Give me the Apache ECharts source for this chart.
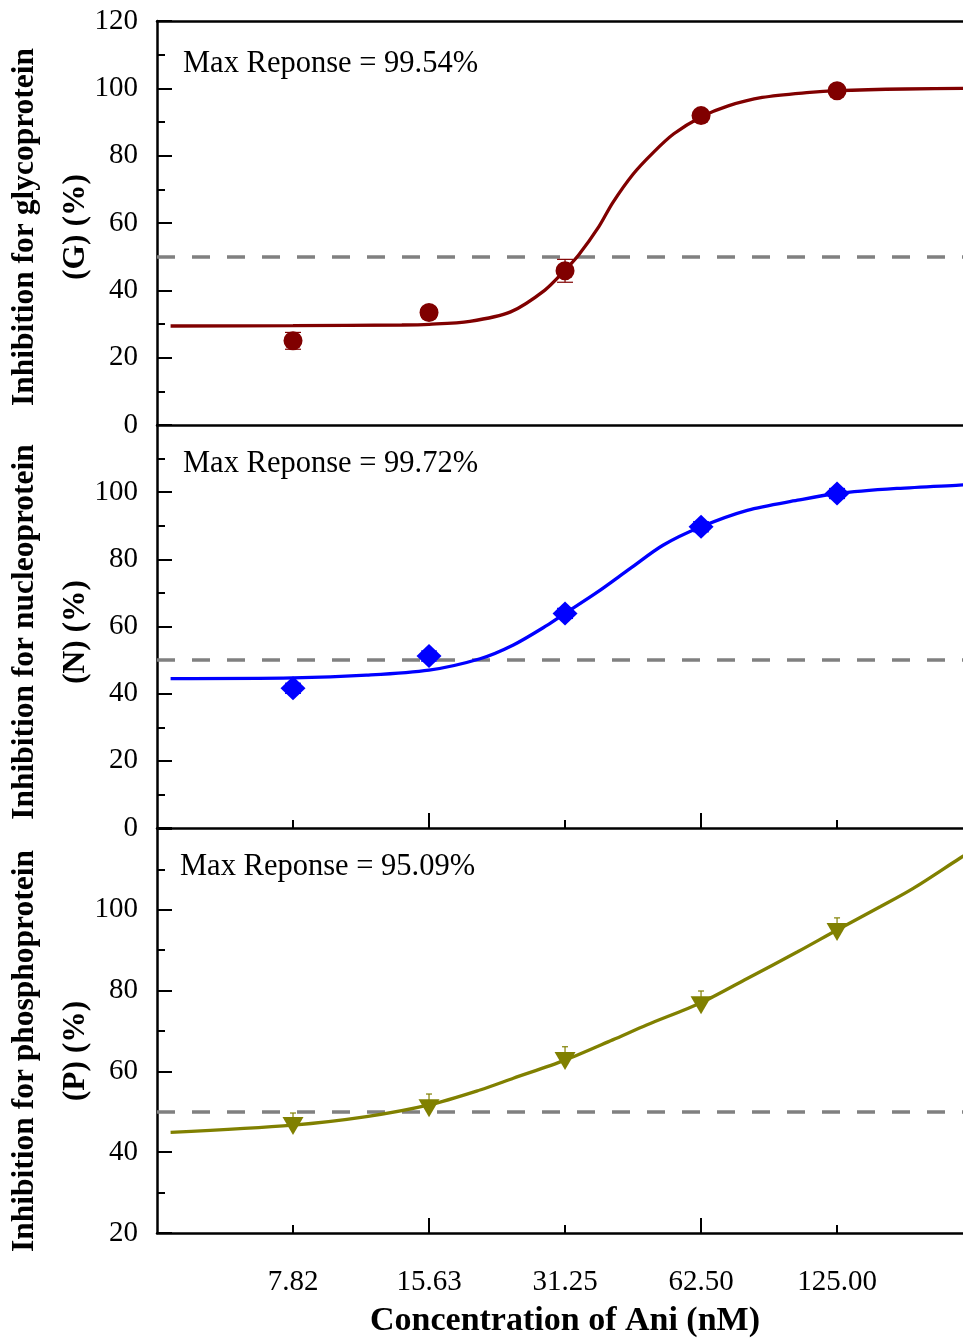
<!DOCTYPE html>
<html>
<head>
<meta charset="utf-8">
<script src="https://cdn.jsdelivr.net/npm/echarts@6/dist/echarts.min.js"></script>
<style>
html,body{margin:0;padding:0;background:#fff;}
#chart{width:963px;height:1339px;}
</style>
</head>
<body>
<div id="chart"></div>
<script>
// ---- data ----
const CONC_LABELS = ["7.82", "15.63", "31.25", "62.50", "125.00"];
const CONC_POS = [1, 2, 3, 4, 5]; // log2-spaced positions of the concentrations
const MAJOR_TICKS = [2, 4];
const MINOR_TICKS = [1, 3, 5];

const G_MEAN = [25.0, 33.4, 45.8, 91.9, 99.3];
const G_ERR  = [2.5, 1.5, 3.4, 1.0, 1.0];
const N_MEAN = [41.6, 51.2, 63.9, 89.7, 99.6];
const N_ERR  = [1.5, 1.5, 1.5, 1.5, 1.5];
const P_MEAN = [46.5, 50.9, 62.6, 76.4, 94.5];
const P_ERR  = [3.2, 3.5, 3.5, 3.5, 3.5];

const G_FIT_X = [0.1, 1.0, 1.8, 2.0, 2.3, 2.6, 2.85, 3.0, 3.1, 3.25, 3.35, 3.5, 3.65, 3.8, 4.0, 4.2, 4.45, 4.8, 5.0, 5.5, 6.0];
const G_FIT_Y = [29.4, 29.5, 29.7, 29.9, 30.8, 33.6, 40.0, 46.0, 50.5, 59.0, 66.0, 74.5, 81.0, 86.5, 91.5, 94.8, 97.3, 98.8, 99.3, 99.8, 100.0];
const N_FIT_X = [0.1, 1.0, 1.54, 2.0, 2.375, 2.62, 2.87, 3.0, 3.24, 3.48, 3.72, 4.0, 4.34, 4.71, 5.0, 5.44, 5.9, 6.0];
const N_FIT_Y = [44.5, 44.7, 45.5, 47.0, 50.4, 54.5, 60.4, 63.9, 70.3, 77.3, 84.2, 89.7, 94.6, 97.6, 99.6, 101.1, 102.1, 102.3];
const P_FIT_X = [0.1, 1.0, 1.54, 2.0, 2.375, 2.62, 3.0, 3.35, 3.6, 4.0, 4.34, 4.71, 5.0, 5.32, 5.56, 5.9, 6.0];
const P_FIT_Y = [44.9, 46.7, 48.8, 51.7, 55.4, 58.3, 62.8, 67.8, 71.5, 77.0, 83.0, 89.6, 95.0, 100.8, 105.3, 112.7, 114.8];

const X_MIN = 0, X_MAX = 5.926; // visible part of the log axis
const HALF = 50;
const MAX_RESPONSE = ["Max Reponse = 99.54%", "Max Reponse = 99.72%", "Max Reponse = 95.09%"];
const Y_TITLES = [
  ["Inhibition for glycoprotein", "(G) (%)"],
  ["Inhibition for nucleoprotein", "(N) (%)"],
  ["Inhibition for phosphoprotein", "(P) (%)"]
];
const X_TITLE = "Concentration of Ani (nM)";

// ---- chart ----
const SERIF = '"Liberation Serif", "Times New Roman", serif';
const chart = echarts.init(document.getElementById('chart'), null, {renderer: 'canvas'});

const panels = [
  {mean: G_MEAN, err: G_ERR, fx: G_FIT_X, fy: G_FIT_Y, color: '#800000', symbol: 'circle', size: 19, rot: 0, cap: 8, plusOnly: false, ymin: 0, ymax: 120, top: 21, h: 404},
  {mean: N_MEAN, err: N_ERR, fx: N_FIT_X, fy: N_FIT_Y, color: '#0000ff', symbol: 'diamond', size: [25, 24], rot: 0, cap: 8, plusOnly: false, ymin: 0, ymax: 120, top: 425, h: 403},
  {mean: P_MEAN, err: P_ERR, fx: P_FIT_X, fy: P_FIT_Y, color: '#808000', symbol: 'triangle', size: [21, 18], rot: 180, cap: 3, plusOnly: true, ymin: 20, ymax: 120, top: 829, h: 404}
];

const grids = [], xAxes = [], yAxes = [], series = [], graphics = [];
const LINE = {color: '#000', width: 2.5};
const TICKLINE = {color: '#000', width: 2};

panels.forEach((p, i) => {
  grids.push({left: 157, right: 0, top: p.top, height: p.h, show: false});
  const xi = xAxes.length;
  // main bottom axis: line, long ticks, labels
  xAxes.push({
    type: 'value', gridIndex: i, min: X_MIN, max: X_MAX, position: 'bottom',
    axisLine: {show: true, onZero: false, lineStyle: LINE},
    axisTick: {show: i > 0, inside: true, length: 15, customValues: MAJOR_TICKS, lineStyle: TICKLINE},
    splitLine: {show: false},
    axisLabel: i === 2 ? {
      show: true, customValues: CONC_POS, margin: 35,
      fontFamily: SERIF, fontSize: 29, color: '#000',
      formatter: v => CONC_LABELS[CONC_POS.indexOf(Math.round(v))] || ''
    } : {show: false}
  });
  // short ticks overlay
  xAxes.push({
    type: 'value', gridIndex: i, min: X_MIN, max: X_MAX, position: 'bottom',
    axisLine: {show: false, onZero: false},
    axisTick: {show: i > 0, inside: true, length: 8, customValues: MINOR_TICKS, lineStyle: TICKLINE},
    splitLine: {show: false}, axisLabel: {show: false}
  });
  if (i === 0) {
    xAxes.push({
      type: 'value', gridIndex: i, min: X_MIN, max: X_MAX, position: 'top',
      axisLine: {show: true, onZero: false, lineStyle: LINE},
      axisTick: {show: false}, splitLine: {show: false}, axisLabel: {show: false}
    });
  }
  yAxes.push({
    type: 'value', gridIndex: i, min: p.ymin, max: p.ymax, interval: 20,
    axisLine: {show: true, onZero: false, lineStyle: LINE},
    axisTick: {show: true, inside: true, length: 15, lineStyle: TICKLINE},
    minorTick: {show: true, splitNumber: 2, length: 8, lineStyle: TICKLINE},
    splitLine: {show: false},
    axisLabel: {show: true, margin: 19, fontFamily: SERIF, fontSize: 29, color: '#000',
      showMaxLabel: i === 0, showMinLabel: true}
  });

  // fitted curve + reference line
  series.push({
    type: 'line', xAxisIndex: xi, yAxisIndex: i,
    data: p.fx.map((x, k) => [x, p.fy[k]]),
    showSymbol: false, smooth: 0.3,
    lineStyle: {color: p.color, width: 3.3}, z: 3, silent: true,
    markLine: {
      silent: true, symbol: ['none', 'none'], label: {show: false},
      lineStyle: {color: '#808080', width: 3.5, type: [18, 17]},
      data: [{yAxis: HALF}], z: 2
    }
  });
  // error bars
  series.push({
    type: 'custom', xAxisIndex: xi, yAxisIndex: i, z: 4, silent: true,
    data: CONC_POS.map((x, k) => [x, p.plusOnly ? p.mean[k] : p.mean[k] - p.err[k], p.mean[k] + p.err[k]]),
    encode: {x: 0, y: [1, 2]},
    renderItem: (params, api) => {
      const x = api.value(0);
      const a = api.coord([x, api.value(1)]);
      const b = api.coord([x, api.value(2)]);
      const c = p.cap;
      const st = {stroke: p.color, lineWidth: 1.2};
      const kids = [
        {type: 'line', shape: {x1: a[0], y1: a[1], x2: b[0], y2: b[1]}, style: st},
        {type: 'line', shape: {x1: b[0] - c, y1: b[1], x2: b[0] + c, y2: b[1]}, style: st}
      ];
      if (!p.plusOnly) kids.push({type: 'line', shape: {x1: a[0] - c, y1: a[1], x2: a[0] + c, y2: a[1]}, style: st});
      return {type: 'group', children: kids};
    }
  });
  // data markers
  series.push({
    type: 'scatter', xAxisIndex: xi, yAxisIndex: i, z: 5, silent: true,
    data: CONC_POS.map((x, k) => [x, p.mean[k]]),
    symbol: p.symbol, symbolSize: p.size, symbolRotate: p.rot,
    itemStyle: {color: p.color, opacity: 1}
  });
});

// annotations & titles
const annY = [64, 464, 867];
const annX = [183, 183, 180];
const titleY = [227, 632, 1051];
MAX_RESPONSE.forEach((t, i) => {
  graphics.push({type: 'text', x: annX[i], y: annY[i], silent: true,
    style: {text: t, font: '30.5px ' + SERIF, fill: '#000', textAlign: 'left', textVerticalAlign: 'middle'}});
  graphics.push({type: 'text', x: 25, y: titleY[i], rotation: Math.PI / 2, silent: true,
    style: {text: Y_TITLES[i][0], font: 'bold 31.5px ' + SERIF, fill: '#000', textAlign: 'center', textVerticalAlign: 'middle'}});
  graphics.push({type: 'text', x: 76, y: titleY[i], rotation: Math.PI / 2, silent: true,
    style: {text: Y_TITLES[i][1], font: 'bold 31.5px ' + SERIF, fill: '#000', textAlign: 'center', textVerticalAlign: 'middle'}});
});
graphics.push({type: 'text', x: 565, y: 1321, silent: true,
  style: {text: X_TITLE, font: 'bold 34px ' + SERIF, fill: '#000', textAlign: 'center', textVerticalAlign: 'middle'}});

chart.setOption({
  animation: false,
  backgroundColor: '#ffffff',
  grid: grids, xAxis: xAxes, yAxis: yAxes, series: series, graphic: graphics
});
</script>
</body>
</html>
